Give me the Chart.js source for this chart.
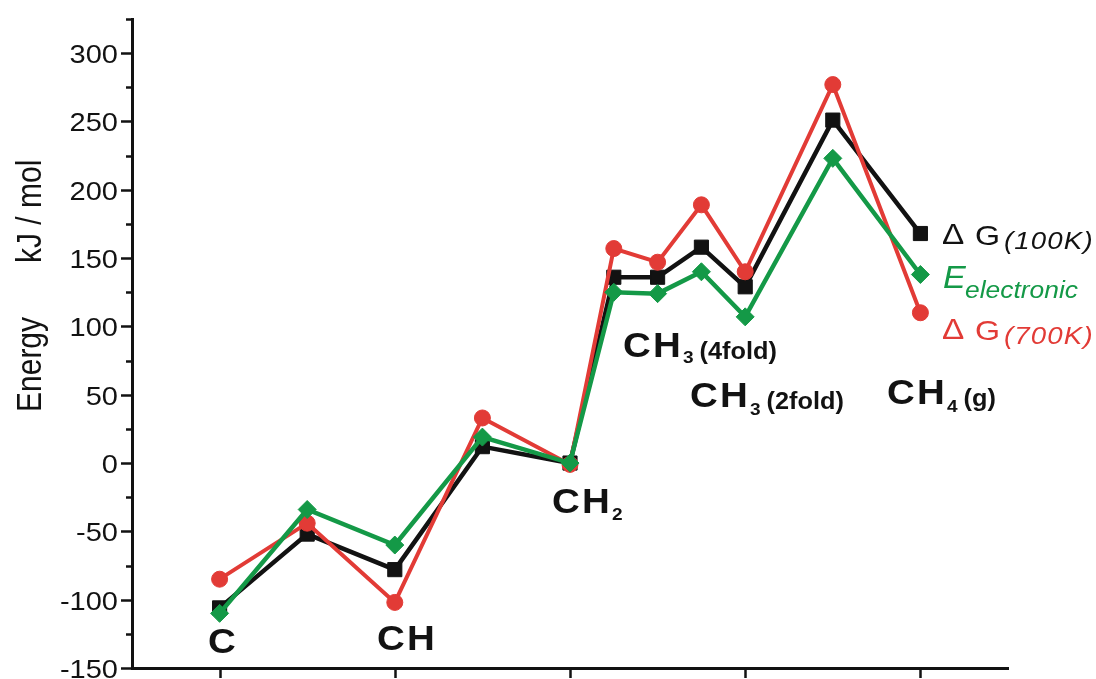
<!DOCTYPE html>
<html><head><meta charset="utf-8">
<script src="https://cdn.jsdelivr.net/npm/chart.js@4/dist/chart.umd.min.js"></script>
<style>html,body{margin:0;padding:0;background:#fff}#wrap{position:relative;width:1096px;height:679px}</style>
</head><body><div id="wrap"><canvas id="c" width="1096" height="679"></canvas></div>
<script>
// ---- data ----
const positions = [0, 1, 2, 3, 4, 4.5, 5, 5.5, 6, 7, 8];
const dG100K    = [-106, -52, -78, 12, 0, 136, 136, 158, 129, 251, 168];
const dG700K    = [-85, -44, -102, 33, -1, 157, 147, 189, 140, 277, 110];
const eElec     = [-110, -34, -60, 19, 0, 125, 124, 140, 107, 223, 138];
const xTickPositions = [0, 2, 4, 6, 8];
const yTickLabels = [-150, -100, -50, 0, 50, 100, 150, 200, 250, 300];
const speciesLabels = [
  {main: 'C',  sub: '',  extra: ''},
  {main: 'CH', sub: '',  extra: ''},
  {main: 'CH', sub: '2', extra: ''},
  {main: 'CH', sub: '3', extra: '(4fold)'},
  {main: 'CH', sub: '3', extra: '(2fold)'},
  {main: 'CH', sub: '4', extra: '(g)'}
];
const seriesNames = ['E electronic', 'ΔG(700K)', 'ΔG(100K)'];

// ---- styles / placement ----
const BLACK = '#121212', RED = '#e23b36', GREEN = '#149947';
const FAM = '"Liberation Sans", Arial, Helvetica, sans-serif';
// anchors in data units (left, baseline)
const speciesAnchors = [
  {x: -0.132, y: -139.1, subDy: 7, exDy: 2},
  {x: 1.797,  y: -136.9, subDy: 7, exDy: 2},
  {x: 3.795,  y: -36.5,  subDy: 7, exDy: 2},
  {x: 4.605,  y: 77.7,   subDy: 6, exDy: 2},
  {x: 5.370,  y: 41.3,   subDy: 8, exDy: 2},
  {x: 7.619,  y: 43.5,   subDy: 8, exDy: 2}
];

function txt(ctx, s, x, y, font, color, sx, align, spacing) {
  ctx.save();
  ctx.font = font; ctx.fillStyle = color; ctx.textBaseline = 'alphabetic';
  ctx.textAlign = align || 'left';
  if (spacing) ctx.letterSpacing = spacing;
  ctx.translate(x, y); ctx.scale(sx, 1);
  ctx.fillText(s, 0, 0);
  const w = ctx.measureText(s).width * sx;
  ctx.restore();
  return w;
}

const decor = {
  id: 'decor',
  afterDraw(chart) {
    const ctx = chart.ctx, xs = chart.scales.x, ys = chart.scales.y;
    const left = chart.chartArea.left, bottom = chart.chartArea.bottom;
    ctx.save();
    ctx.strokeStyle = BLACK; ctx.lineWidth = 2.5;
    // y ticks
    ys.ticks.forEach(t => {
      const py = Math.round(ys.getPixelForValue(t.value)) + 0.5;
      const major = yTickLabels.includes(t.value);
      const len = major ? 11 : 6;
      ctx.beginPath(); ctx.moveTo(left - len, py); ctx.lineTo(left, py); ctx.stroke();
      if (major) txt(ctx, String(t.value), 118, py + 9, '25px ' + FAM, BLACK, 1.16, 'right');
    });
    // x ticks
    xs.ticks.forEach(t => {
      const px = Math.round(xs.getPixelForValue(t.value)) + 0.5;
      ctx.beginPath(); ctx.moveTo(px, bottom); ctx.lineTo(px, bottom + 10); ctx.stroke();
    });
    ctx.restore();

    // y-axis title
    [['Energy', 412], ['kJ / mol', 263]].forEach(([s, y]) => {
      ctx.save();
      ctx.translate(41, y); ctx.scale(1.16, 1); ctx.rotate(-Math.PI / 2);
      ctx.font = '30px ' + FAM; ctx.fillStyle = BLACK; ctx.textAlign = 'left';
      ctx.fillText(s, 0, 0);
      ctx.restore();
    });

    // species labels
    speciesLabels.forEach((l, i) => {
      const a = speciesAnchors[i];
      let x = xs.getPixelForValue(a.x), y = ys.getPixelForValue(a.y);
      x += txt(ctx, l.main, x, y, 'bold 35px ' + FAM, BLACK, 1.1, 'left', '2px');
      if (l.sub) x += txt(ctx, l.sub, x, y + a.subDy, 'bold 17px ' + FAM, BLACK, 1.12) + 1;
      if (l.extra) txt(ctx, l.extra, x + 5, y + a.exDy, 'bold 23px ' + FAM, BLACK, 1.1);
    });

    // series labels at right end
    const lx = xs.getPixelForValue(8.258);
    const yB = ys.getPixelForValue(159.9), yE = ys.getPixelForValue(127.9), yR = ys.getPixelForValue(90);
    txt(ctx, 'Δ', lx - 1, yB - 1, '29px ' + FAM, BLACK, 1.15);
    txt(ctx, 'G', lx + 32, yB, '28px ' + FAM, BLACK, 1.15);
    txt(ctx, '(100K)', lx + 61, yB + 4, 'italic 24px ' + FAM, BLACK, 1.15, 'left', '1px');
    txt(ctx, 'E', lx, yE, 'italic 31px ' + FAM, GREEN, 1.1);
    txt(ctx, 'electronic', lx + 22, yE + 10, 'italic 24px ' + FAM, GREEN, 1.1);
    txt(ctx, 'Δ', lx - 1, yR - 1, '29px ' + FAM, RED, 1.15);
    txt(ctx, 'G', lx + 32, yR, '28px ' + FAM, RED, 1.15);
    txt(ctx, '(700K)', lx + 61, yR + 4, 'italic 24px ' + FAM, RED, 1.15, 'left', '1px');
  }
};

function pts(arr) { return positions.map((x, i) => ({x: x, y: arr[i]})); }

new Chart(document.getElementById('c'), {
  type: 'line',
  data: {
    datasets: [
      {label: seriesNames[0], data: pts(eElec), borderColor: GREEN, backgroundColor: GREEN,
       borderWidth: 4.5, pointStyle: 'rectRot', pointRadius: 9, pointBorderWidth: 1, pointBorderColor: GREEN, tension: 0},
      {label: seriesNames[1], data: pts(dG700K), borderColor: RED, backgroundColor: RED,
       borderWidth: 4, pointStyle: 'circle', pointRadius: 8, pointBorderWidth: 1, pointBorderColor: RED, tension: 0},
      {label: seriesNames[2], data: pts(dG100K), borderColor: BLACK, backgroundColor: BLACK,
       borderWidth: 4.5, pointStyle: 'rect', pointRadius: 10, pointBorderWidth: 1, pointBorderColor: BLACK, tension: 0}
    ]
  },
  options: {
    responsive: false, animation: false, devicePixelRatio: 1,
    layout: {padding: {top: 19, right: 88, left: 0, bottom: 0}},
    plugins: {legend: {display: false}, tooltip: {enabled: false}},
    scales: {
      x: {
        type: 'linear', min: -1, max: 9,
        afterFit(s) { s.height = 7; },
        afterBuildTicks(s) { s.ticks = xTickPositions.map(v => ({value: v})); },
        grid: {display: false, drawTicks: false},
        border: {display: true, color: BLACK, width: 3},
        ticks: {display: false}
      },
      y: {
        type: 'linear', min: -150, max: 325,
        afterFit(s) { s.width = 132; },
        afterBuildTicks(s) {
          const t = [];
          for (let v = s.min; v <= s.max; v += 25) t.push({value: v});
          s.ticks = t;
        },
        grid: {display: false, drawTicks: false},
        border: {display: true, color: BLACK, width: 3},
        ticks: {display: false}
      }
    }
  },
  plugins: [decor]
});
</script>
</body></html>
